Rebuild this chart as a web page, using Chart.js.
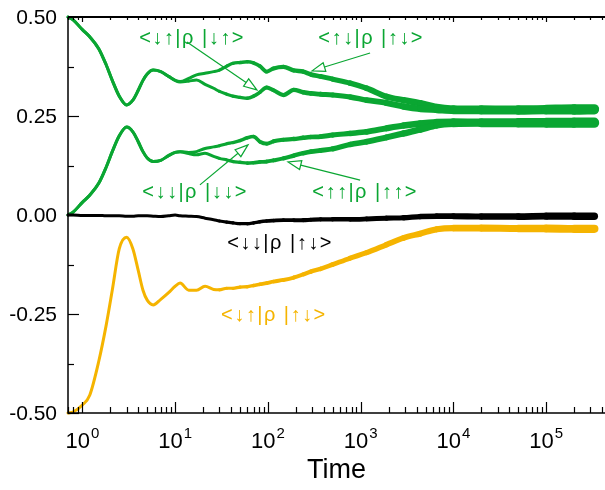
<!DOCTYPE html>
<html>
<head>
<meta charset="utf-8">
<script src="https://cdn.jsdelivr.net/npm/chart.js@4/dist/chart.umd.min.js"></script>
<style>
html, body { margin: 0; padding: 0; background: #fff; }
#wrap { width: 605px; height: 490px; position: relative; }
</style>
</head>
<body>
<div id="wrap"><canvas id="chart"></canvas></div>
<script>
// time grid (log axis)
var timeValues = [0.7, 0.8, 1, 1.2, 1.5, 1.8, 2.1, 2.5, 3, 3.5,
  4, 4.5, 5, 5.8, 7, 8.5, 10, 11.3, 14, 17,
  21, 26, 30, 36, 42, 50, 60, 70, 82, 97,
  115, 147, 190, 240, 290, 370, 500, 770, 1160, 1900,
  2900, 4400, 6600, 1e4, 2e4, 5e4, 1e5, 2e5, 3.3e5];

// <↑↓|ρ|↑↓>
var upDownUpDown = [0.5, 0.492, 0.468, 0.45, 0.42, 0.38, 0.34, 0.30, 0.278, 0.29,
  0.315, 0.34, 0.356, 0.366, 0.362, 0.35, 0.34, 0.337, 0.345, 0.354,
  0.358, 0.362, 0.366, 0.376, 0.383, 0.385, 0.387, 0.384, 0.376, 0.362,
  0.37, 0.374, 0.365, 0.362, 0.355, 0.35, 0.343, 0.333, 0.32, 0.299,
  0.29, 0.282, 0.272, 0.268, 0.267, 0.266, 0.267, 0.268, 0.268];
// <↓↑|ρ|↓↑>
var downUpDownUp = [0.5, 0.492, 0.468, 0.45, 0.42, 0.38, 0.34, 0.30, 0.278, 0.29,
  0.315, 0.34, 0.356, 0.366, 0.362, 0.35, 0.34, 0.336, 0.338, 0.341,
  0.33, 0.32, 0.312, 0.305, 0.3, 0.297, 0.295, 0.3, 0.31, 0.322,
  0.315, 0.303, 0.316, 0.31, 0.307, 0.305, 0.303, 0.298, 0.29, 0.283,
  0.274, 0.268, 0.266, 0.264, 0.264, 0.264, 0.265, 0.265, 0.266];
// <↓↓|ρ|↓↓>
var downDownDownDown = [0, 0.008, 0.032, 0.05, 0.08, 0.12, 0.16, 0.2, 0.222, 0.21,
  0.185, 0.16, 0.144, 0.135, 0.138, 0.15, 0.158, 0.16, 0.158, 0.16,
  0.168, 0.172, 0.175, 0.18, 0.183, 0.188, 0.195, 0.198, 0.185, 0.18,
  0.186, 0.19, 0.192, 0.195, 0.197, 0.198, 0.202, 0.206, 0.21, 0.219,
  0.226, 0.231, 0.234, 0.235, 0.234, 0.234, 0.234, 0.234, 0.234];
// <↑↑|ρ|↑↑>
var upUpUpUp = [0, 0.008, 0.032, 0.05, 0.08, 0.12, 0.16, 0.2, 0.222, 0.21,
  0.185, 0.16, 0.144, 0.135, 0.138, 0.15, 0.158, 0.16, 0.155, 0.152,
  0.156, 0.148, 0.143, 0.139, 0.135, 0.133, 0.131, 0.132, 0.134, 0.135,
  0.138, 0.143, 0.15, 0.156, 0.16, 0.163, 0.167, 0.178, 0.185, 0.196,
  0.206, 0.216, 0.227, 0.231, 0.232, 0.232, 0.232, 0.232, 0.232];
// <↓↓|ρ|↑↓>
var downDownUpDown = [0, 0, -0.001, -0.001, -0.001, -0.002, -0.002, -0.002, -0.003, -0.003,
  -0.002, -0.002, -0.002, -0.003, -0.004, -0.002, 0, -0.002, -0.003, -0.004,
  -0.008, -0.012, -0.015, -0.018, -0.02, -0.022, -0.022, -0.02, -0.017, -0.015,
  -0.014, -0.013, -0.013, -0.013, -0.012, -0.011, -0.011, -0.011, -0.01, -0.008,
  -0.007, -0.004, -0.003, -0.003, -0.004, -0.004, -0.003, -0.003, -0.003];
// <↓↑|ρ|↑↓>
var downUpUpDown = [-0.5, -0.497, -0.48, -0.455, -0.37, -0.28, -0.19, -0.085, -0.056, -0.085,
  -0.14, -0.19, -0.215, -0.227, -0.213, -0.196, -0.18, -0.172, -0.19, -0.19,
  -0.18, -0.188, -0.189, -0.185, -0.185, -0.182, -0.181, -0.178, -0.175, -0.172,
  -0.168, -0.164, -0.158, -0.15, -0.143, -0.136, -0.125, -0.109, -0.095, -0.075,
  -0.058, -0.047, -0.036, -0.033, -0.033, -0.034, -0.034, -0.035, -0.035];

var yTicks = [-0.5, -0.25, 0, 0.25, 0.5];
var yTickLabels = ['-0.50', '-0.25', '0.00', '0.25', '0.50'];
var xDecades = [0, 1, 2, 3, 4, 5];

var green = '#0aa632';
var yellow = '#f5b400';
var FONT = '"Liberation Sans", Arial, Helvetica, sans-serif';
var NOTE_FONT = '20px "Liberation Sans", Arial, sans-serif';

function toPoints(values) {
  return values.map(function (v, i) { return { x: timeValues[i], y: v }; });
}

// later times are noisier -> draw them thicker
function noisyWidth(base, grow) {
  return function (ctx) {
    var lt = Math.log10(ctx.p1.parsed.x);
    return lt > 1.5 ? base + grow * (lt - 1.5) : base;
  };
}

function series(values, color, grow) {
  return {
    data: toPoints(values),
    borderColor: color,
    borderWidth: 3,
    pointRadius: 0,
    fill: false,
    cubicInterpolationMode: 'monotone',
    borderJoinStyle: 'round',
    borderCapStyle: 'round',
    clip: false,
    segment: { borderWidth: noisyWidth(3, grow) }
  };
}

// labels and arrows, in data coordinates
var notes = [
  { text: '<↓↑|ρ |↓↑>', color: green, at: [15.2, 0.447], from: [13.4, 0.437], to: [76, 0.316] },
  { text: '<↑↓|ρ |↑↓>', color: green, at: [1295, 0.447], from: [1262, 0.409], to: [299, 0.364] },
  { text: '<↓↓|ρ |↓↓>', color: green, at: [16.4, 0.058], from: [18.5, 0.076], to: [61, 0.177] },
  { text: '<↑↑|ρ |↑↑>', color: green, at: [1115, 0.058], from: [986, 0.088], to: [165, 0.134] },
  { text: '<↓↓|ρ |↑↓>', color: '#000', at: [135, -0.071] },
  { text: '<↓↑|ρ |↑↓>', color: yellow, at: [116, -0.255] }
];

function drawArrow(ctx, x1, y1, x2, y2, color) {
  var ang = Math.atan2(y2 - y1, x2 - x1);
  var len = 13, half = 4.5;
  var bx = x2 - len * Math.cos(ang), by = y2 - len * Math.sin(ang);
  ctx.strokeStyle = color;
  ctx.lineWidth = 1.2;
  ctx.beginPath();
  ctx.moveTo(x1, y1);
  ctx.lineTo(bx, by);
  ctx.stroke();
  ctx.beginPath();
  ctx.moveTo(x2, y2);
  ctx.lineTo(bx + half * Math.sin(ang), by - half * Math.cos(ang));
  ctx.lineTo(bx - half * Math.sin(ang), by + half * Math.cos(ang));
  ctx.closePath();
  ctx.fillStyle = '#fff';
  ctx.fill();
  ctx.stroke();
}

var framePlugin = {
  id: 'frame',
  afterDatasetsDraw: function (chart) {
    var ctx = chart.ctx, area = chart.chartArea;
    var xs = chart.scales.x, ys = chart.scales.y;
    ctx.save();
    ctx.strokeStyle = '#000';
    ctx.lineWidth = 1.5;
    ctx.beginPath();
    ctx.moveTo(area.left, area.top);
    ctx.lineTo(area.left, area.bottom);
    ctx.lineTo(area.right, area.bottom);
    ctx.stroke();
    ctx.lineWidth = 2;
    ctx.beginPath();
    ctx.moveTo(area.left, area.top);
    ctx.lineTo(area.right, area.top);
    ctx.stroke();

    // x ticks, pointing inwards
    ctx.lineWidth = 1.2;
    for (var d = -1; d <= 5; d++) {
      for (var k = 1; k <= 9; k++) {
        var v = k * Math.pow(10, d);
        if (v < xs.min || v > xs.max) continue;
        var px = Math.round(xs.getPixelForValue(v)) + 0.5;
        var major = k === 1;
        ctx.beginPath();
        ctx.moveTo(px, area.bottom);
        ctx.lineTo(px, area.bottom - (major ? 11 : 6));
        ctx.moveTo(px, area.top);
        ctx.lineTo(px, area.top + (major ? 5 : 3));
        ctx.stroke();
      }
    }
    // y ticks
    for (var j = 0; j < yTicks.length; j++) {
      var py = Math.round(ys.getPixelForValue(yTicks[j])) + 0.5;
      ctx.beginPath();
      ctx.moveTo(area.left, py);
      ctx.lineTo(area.left + 11, py);
      ctx.stroke();
      if (j < yTicks.length - 1) {
        var pm = Math.round(ys.getPixelForValue((yTicks[j] + yTicks[j + 1]) / 2)) + 0.5;
        ctx.beginPath();
        ctx.moveTo(area.left, pm);
        ctx.lineTo(area.left + 6, pm);
        ctx.stroke();
      }
    }

    // tick labels
    ctx.fillStyle = '#000';
    ctx.font = '21px ' + FONT;
    ctx.textAlign = 'right';
    ctx.textBaseline = 'middle';
    for (j = 0; j < yTicks.length; j++) {
      ctx.fillText(yTickLabels[j], area.left - 11, ys.getPixelForValue(yTicks[j]) + 1);
    }
    ctx.textAlign = 'left';
    ctx.textBaseline = 'alphabetic';
    xDecades.forEach(function (e) {
      var px = xs.getPixelForValue(Math.pow(10, e));
      ctx.font = '22px ' + FONT;
      var wBase = ctx.measureText('10').width;
      ctx.font = '15px ' + FONT;
      var wExp = ctx.measureText(String(e)).width;
      var x0 = px - (wBase + wExp + 1) / 2;
      ctx.font = '22px ' + FONT;
      ctx.fillText('10', x0, area.bottom + 35);
      ctx.font = '15px ' + FONT;
      ctx.fillText(String(e), x0 + wBase + 1, area.bottom + 25);
    });
    ctx.font = '27px ' + FONT;
    ctx.textAlign = 'center';
    ctx.fillText('Time', (area.left + area.right) / 2, area.bottom + 65);

    // annotations
    notes.forEach(function (n) {
      if (n.from) {
        drawArrow(ctx, xs.getPixelForValue(n.from[0]), ys.getPixelForValue(n.from[1]),
          xs.getPixelForValue(n.to[0]), ys.getPixelForValue(n.to[1]), n.color);
      }
      ctx.font = NOTE_FONT;
      ctx.letterSpacing = '1.5px';
      ctx.fillStyle = n.color;
      ctx.textAlign = 'center';
      ctx.textBaseline = 'middle';
      ctx.fillText(n.text, xs.getPixelForValue(n.at[0]), ys.getPixelForValue(n.at[1]));
      ctx.letterSpacing = '0px';
    });
    ctx.restore();
  }
};

new Chart(document.getElementById('chart').getContext('2d'), {
  type: 'line',
  data: {
    datasets: [
      series(downUpUpDown, yellow, 1.3),
      series(downDownUpDown, '#000', 1.1),
      series(upUpUpUp, green, 1.6),
      series(downDownDownDown, green, 1.6),
      series(downUpDownUp, green, 1.6),
      series(upDownUpDown, green, 1.6)
    ]
  },
  options: {
    responsive: true,
    maintainAspectRatio: false,
    animation: false,
    layout: { padding: { left: 68, top: 17, right: 0, bottom: 77 } },
    plugins: { legend: { display: false }, tooltip: { enabled: false } },
    scales: {
      x: {
        type: 'logarithmic', min: 0.7, max: 4.3e5,
        grid: { display: false, drawTicks: false },
        border: { display: false },
        ticks: { display: false }
      },
      y: {
        type: 'linear', min: -0.5, max: 0.5,
        grid: { display: false, drawTicks: false },
        border: { display: false },
        ticks: { display: false }
      }
    }
  },
  plugins: [framePlugin]
});
</script>
</body>
</html>
